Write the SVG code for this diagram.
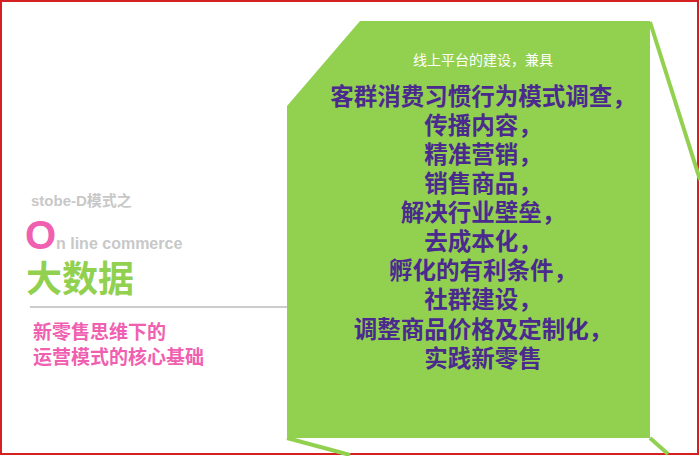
<svg xmlns="http://www.w3.org/2000/svg" width="700" height="456" viewBox="0 0 700 456">
<style>
.m{font-family:"Noto Sans CJK SC","Liberation Sans",sans-serif;font-weight:bold;font-size:23.5px;fill:#4a2a8e;text-anchor:middle}
.s{font-family:"Noto Sans CJK SC",sans-serif;font-size:14px;fill:#fff;text-anchor:middle}
</style>
<rect x="0" y="0" width="700" height="456" fill="#fff"/>
<rect x="1" y="1" width="697" height="453" fill="none" stroke="#d42020" stroke-width="2"/>
<g id="deco" stroke="#92d050" stroke-width="4" fill="none">
<line x1="650" y1="22" x2="700" y2="180"/>
<line x1="287" y1="438" x2="350" y2="455"/>
<line x1="650" y1="438" x2="668" y2="454"/>
</g>
<g id="left">
<text x="31" y="206" font-family="'Liberation Sans','Noto Sans CJK SC',sans-serif" font-weight="bold" font-size="15" fill="#c8c8c8">stobe-D模式之</text>
<text x="25" y="249" font-family="'Liberation Sans',sans-serif" font-weight="bold" font-size="40" fill="#f060b0">O</text>
<text x="56" y="249" font-family="'Liberation Sans',sans-serif" font-weight="bold" font-size="16" fill="#c8c8c8">n line commerce</text>
<text x="26" y="292" font-family="'Noto Sans CJK SC',sans-serif" font-weight="bold" font-size="36" fill="#92d050">大数据</text>
<line x1="30" y1="307" x2="287" y2="307" stroke="#bbb" stroke-width="1.5"/>
<text x="33" y="339" font-family="'Noto Sans CJK SC',sans-serif" font-weight="bold" font-size="19" fill="#f060b0">新零售思维下的</text>
<text x="33" y="364" font-family="'Noto Sans CJK SC',sans-serif" font-weight="bold" font-size="19" fill="#f060b0">运营模式的核心基础</text>
</g>
<g id="box">
<polygon points="287,106 360,21 650,21 650,438 287,438" fill="#92d050"/>
<text x="483" y="65" class="s">线上平台的建设，兼具</text>
<text x="483" y="105" class="m">客群消费习惯行为模式调查，</text>
<text x="483" y="134" class="m">传播内容，</text>
<text x="483" y="163" class="m">精准营销，</text>
<text x="483" y="192" class="m">销售商品，</text>
<text x="483" y="221" class="m">解决行业壁垒，</text>
<text x="483" y="250" class="m">去成本化，</text>
<text x="483" y="279" class="m">孵化的有利条件，</text>
<text x="483" y="308" class="m">社群建设，</text>
<text x="483" y="338" class="m">调整商品价格及定制化，</text>
<text x="483" y="367" class="m">实践新零售</text>
</g>
</svg>
